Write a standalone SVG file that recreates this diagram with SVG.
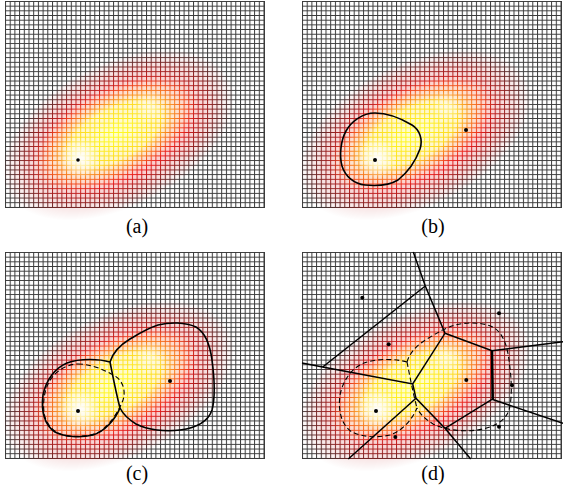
<svg xmlns="http://www.w3.org/2000/svg" xmlns:xlink="http://www.w3.org/1999/xlink" width="563" height="495" viewBox="0 0 563 495">
<style>
.lbl{font-family:"Liberation Serif","DejaVu Serif","Times New Roman",serif;font-size:20px;fill:#000;text-anchor:middle}
.solid{fill:none;stroke:#000;stroke-width:1.6;stroke-linejoin:round}
.dash{fill:none;stroke:#000;stroke-width:1.1;stroke-dasharray:5 3}
.edge{fill:none;stroke:#000;stroke-width:1.5}
.dot{fill:#000}
</style>
<defs>
<pattern id="gp" patternUnits="userSpaceOnUse" width="4.7" height="4.68">
<path d="M0.5,0V4.68M0,0.5H4.7" stroke="#fff" stroke-width="1"/>
</pattern>
<mask id="gm" maskUnits="userSpaceOnUse" x="0" y="0" width="260" height="207">
<rect x="0" y="0" width="260" height="207" fill="url(#gp)"/>
<path d="M259.5,0V206.5M0,206.5H260" stroke="#fff" stroke-width="1"/>
</mask>
<radialGradient id="gr">
<stop offset="0" stop-color="#ff1010" stop-opacity="1"/>
<stop offset="0.6" stop-color="#f01818" stop-opacity="0.95"/>
<stop offset="0.8" stop-color="#c81010" stop-opacity="0.6"/>
<stop offset="1" stop-color="#a00000" stop-opacity="0"/>
</radialGradient>
<radialGradient id="gy">
<stop offset="0" stop-color="#ffff20" stop-opacity="1"/>
<stop offset="0.55" stop-color="#ffee20" stop-opacity="0.9"/>
<stop offset="0.8" stop-color="#ffb020" stop-opacity="0.5"/>
<stop offset="1" stop-color="#ff8020" stop-opacity="0"/>
</radialGradient>
<radialGradient id="gw">
<stop offset="0" stop-color="#fff" stop-opacity="1"/>
<stop offset="0.5" stop-color="#fff" stop-opacity="0.5"/>
<stop offset="1" stop-color="#fff" stop-opacity="0"/>
</radialGradient>
<g id="blobs">
<ellipse cx="0" cy="0" rx="125" ry="72" fill="url(#gr)" transform="translate(113,134) rotate(-27)"/>
<ellipse cx="0" cy="0" rx="90" ry="45" fill="url(#gy)" transform="translate(110,133) rotate(-28)"/>
<circle cx="75" cy="157" r="20" fill="url(#gw)"/>
<circle cx="145" cy="106" r="16" fill="url(#gw)" opacity="0.45"/>
</g>
<g id="heat">
<rect x="0" y="0" width="260" height="207" fill="#3a3a3a"/>
<use href="#blobs"/>
</g>
<g id="panel">
<use href="#blobs" opacity="0.22"/>
<g mask="url(#gm)"><use href="#heat"/></g>
</g>
<path id="curveB" d="M375,113 C388,113 402,119 412,125 C420,130 423,140 420,149 C416,160 408,172 398,180 C390,185 376,186 365,185 C354,184 345,176 342,166 C339,155 341,140 346,131 C351,122 362,113 375,113 Z"/>
<g id="curvesC">
<path d="M110,362 C113,352 120,345 130,339 C140,333 148,328 158,325 C170,322 185,322 196,327 C206,333 210,345 212,360 C214,375 216,395 212,410 C208,422 195,428 180,430 C165,432 148,430 136,424 C128,419 123,414 120,408"/>
<path d="M110,362 C100,359 80,358 67,363 C55,368 46,380 43,395 C41,410 44,425 55,432 C65,437 80,438 93,435 C105,431 115,420 120,408"/>
<path d="M110,362 C113,377 116,393 120,408"/>
</g>
</defs>

<g id="panel-a" transform="translate(5,1)"><use href="#panel"/></g>
<g id="panel-b" transform="translate(302,1)"><use href="#panel"/></g>
<g id="panel-c" transform="translate(5,252)"><use href="#panel"/></g>
<g id="panel-d" transform="translate(302,252)"><use href="#panel"/></g>

<g id="connectors">
<use href="#curveB" class="solid"/>
<use href="#curveB" class="dash" transform="translate(-297,251)"/>
<use href="#curvesC" class="solid"/>
<use href="#curvesC" class="dash" transform="translate(297,0)"/>
<path class="edge" d="M413.3,252 L425.3,286 L445,333.3 L412.7,384 L322.7,367 L425.3,286 M322.7,367 L302,363 M445,333.3 L492,350.7 L563,341.7 M492,399.3 L563,423.3 M492,399.3 L445,428.3 L416,398.3 L412.7,384 M445,428.3 L470.7,459 M416,398.3 L348.3,459"/>
<path d="M492,350.7 L492.7,399.3" fill="none" stroke="#000" stroke-width="2.6"/>
</g>

<g id="dots">
<circle class="dot" cx="78" cy="160" r="1.8"/>
<circle class="dot" cx="375" cy="160" r="2"/>
<circle class="dot" cx="466" cy="130" r="2"/>
<circle class="dot" cx="78" cy="411" r="2"/>
<circle class="dot" cx="170" cy="381" r="2"/>
<circle class="dot" cx="362.3" cy="297.7" r="2"/>
<circle class="dot" cx="388.7" cy="344.3" r="2"/>
<circle class="dot" cx="499" cy="313.3" r="2"/>
<circle class="dot" cx="466.3" cy="380" r="2"/>
<circle class="dot" cx="512" cy="385.3" r="2"/>
<circle class="dot" cx="376" cy="411" r="2"/>
<circle class="dot" cx="395.3" cy="437" r="2"/>
<circle class="dot" cx="499" cy="426.7" r="2"/>
</g>

<g id="labels" font-family="Liberation Serif, DejaVu Serif, serif">
<text class="lbl" x="137" y="233">(a)</text>
<text class="lbl" x="433" y="233">(b)</text>
<text class="lbl" x="137" y="480">(c)</text>
<text class="lbl" x="433" y="480">(d)</text>
</g>
</svg>
